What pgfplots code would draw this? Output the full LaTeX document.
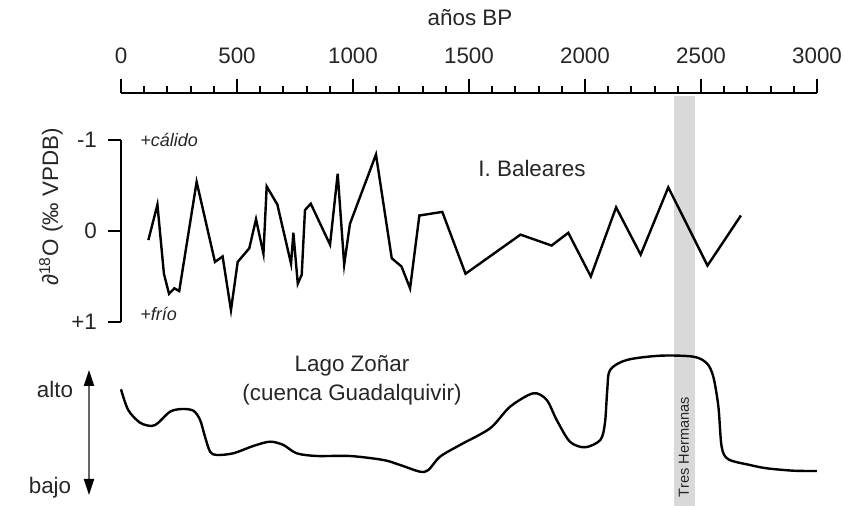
\documentclass[border=0pt]{standalone}
\usepackage{fontspec}
\setmainfont{Liberation Sans}
\usepackage{pgfplots}
\pgfplotsset{compat=1.18}
\usetikzlibrary{arrows.meta}
\newcommand{\fs}{\fontsize{11.2}{13}\selectfont}
\colorlet{txt}{black!85}
\begin{document}
\begin{tikzpicture}[font=\fs, text=txt]
\path[use as bounding box] (-60.5pt,0pt) rectangle (361.5pt,253pt);

% ---------- lower panel: Lago Zonar ----------
\begin{axis}[at={(0pt,0pt)}, anchor=south west, scale only axis,
  width=348pt, height=206.5pt, xmin=0, xmax=3000, ymin=0, ymax=413,
  hide axis, clip=false]
\addplot[fill=black!15, draw=none] coordinates {(2384,0) (2474,0) (2474,410) (2384,410)} -- cycle;
\addplot[black, line width=1.2pt, smooth, tension=0.5] coordinates {
(0,116.7) (31,96) (82,83.3) (132,80) (161,83.3) (211,94.3) (262,97) (312,95.3)
(341,86) (362,69.3) (384,54.3) (412,51) (484,52.7) (570,60) (642,64.3) (700,61)
(757,52.7) (844,50) (987,50) (1131,46) (1203,41) (1289,34.3) (1325,36) (1375,49.3)
(1461,61) (1591,77.7) (1677,99.3) (1777,112.7) (1835,106) (1878,86) (1935,64.3)
(2000,58.7) (2066,66) (2086,83) (2096,116) (2108,136) (2180,146) (2325,150.3)
(2467,149.3) (2525,142.7) (2553,129.3) (2575,99.3) (2589,59.3) (2618,46.7)
(2711,41) (2783,37.7) (2898,35.3) (2999,35)};
\end{axis}

% ---------- upper panel: I. Baleares ----------
\begin{axis}[at={(0pt,92pt)}, anchor=south west, scale only axis,
  width=348pt, height=91pt, xmin=0, xmax=3000, ymin=-1, ymax=1, y dir=reverse,
  axis y line=left, hide x axis, axis line style={-, line width=1pt, black},
  ytick={-1,0,1}, yticklabels={-1,0,+1}, tick align=outside,
  major tick length=6.5pt, tick style={line width=1pt, black},
  yticklabel style={font=\fs, text=txt, anchor=east, xshift=-2pt}, clip=false]
\addplot[black, line width=1.2pt] coordinates {
(118,0.10) (157,-0.29) (185,0.47) (207,0.69) (230,0.63) (251,0.66) (326,-0.54)
(405,0.34) (438,0.28) (474,0.87) (503,0.34) (553,0.19) (582,-0.13) (614,0.25)
(628,-0.49) (674,-0.29) (733,0.36) (743,0.02) (762,0.58) (779,0.48) (793,-0.23)
(818,-0.30) (901,0.15) (934,-0.63) (962,0.37) (987,-0.08) (1099,-0.84) (1167,0.30)
(1209,0.39) (1246,0.63) (1286,-0.17) (1385,-0.21) (1485,0.47) (1722,0.04)
(1856,0.16) (1928,0.02) (2025,0.50) (2134,-0.26) (2240,0.26) (2359,-0.48)
(2528,0.38) (2672,-0.17)};
\end{axis}

% ---------- top scale: anos BP ----------
\begin{axis}[at={(0pt,205.5pt)}, anchor=south west, scale only axis,
  width=348pt, height=1pt, xmin=0, xmax=3000, ymin=0, ymax=1,
  axis x line=top, hide y axis, axis line style={-, line width=1pt, black},
  xtick={0,500,1000,1500,2000,2500,3000},
  xticklabels={0,500,1000,1500,2000,2500,3000},
  minor x tick num=4, tick align=outside,
  major tick length=7pt, minor tick length=3.5pt,
  tick style={line width=1pt, black},
  xticklabel style={font=\fs, text=txt, yshift=4pt}]
\end{axis}

% ---------- texts ----------
\node at (174.5pt,244pt) {años BP};
\node[anchor=west, inner sep=0pt, font=\fontsize{9}{11}\selectfont\itshape] at (9.5pt,183pt) {+cálido};
\node[anchor=west, inner sep=0pt, font=\fontsize{9}{11}\selectfont\itshape] at (9.5pt,96pt) {+frío};
\node at (205.5pt,168.5pt) {I. Baleares};
\node at (115.5pt,70pt) {Lago Zoñar};
\node at (115.5pt,55.5pt) {(cuenca Guadalquivir)};
\node at (-33pt,58pt) {alto};
\node at (-35.5pt,9pt) {bajo};
\node[rotate=90] at (-35pt,149.5pt) {∂\textsuperscript{18}O (‰ VPDB)};
\node[rotate=90, font=\fontsize{7.3}{9}\selectfont] at (281.5pt,29.5pt) {Tres Hermanas};
\draw[line width=1pt, black!60, {Triangle[length=8pt,width=5pt,black]}-{Triangle[length=8pt,width=5pt,black]}] (-16pt,68pt) -- (-16pt,5.5pt);
\end{tikzpicture}
\end{document}
